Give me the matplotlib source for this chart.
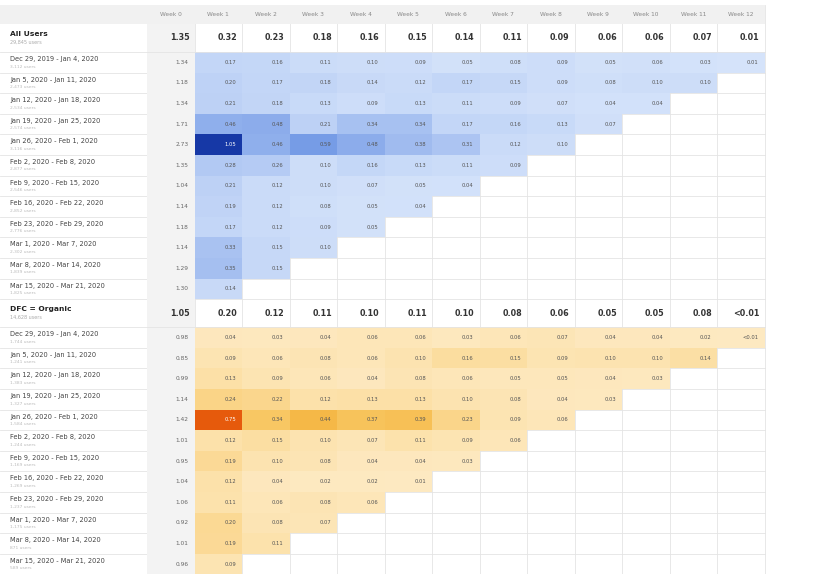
import matplotlib.pyplot as plt
import numpy as np
from matplotlib.colors import LinearSegmentedColormap
from matplotlib.patches import Rectangle

weeks = [f"Week {i}" for i in range(13)]
cohorts = ["Dec 29, 2019 - Jan 4, 2020", "Jan 5, 2020 - Jan 11, 2020",
           "Jan 12, 2020 - Jan 18, 2020", "Jan 19, 2020 - Jan 25, 2020",
           "Jan 26, 2020 - Feb 1, 2020", "Feb 2, 2020 - Feb 8, 2020",
           "Feb 9, 2020 - Feb 15, 2020", "Feb 16, 2020 - Feb 22, 2020",
           "Feb 23, 2020 - Feb 29, 2020", "Mar 1, 2020 - Mar 7, 2020",
           "Mar 8, 2020 - Mar 14, 2020", "Mar 15, 2020 - Mar 21, 2020"]

all_users = "29,845 users"
all_counts = ["3,112 users", "2,473 users", "2,534 users", "2,574 users",
              "3,116 users", "2,877 users", "2,546 users", "2,852 users",
              "2,776 users", "2,302 users", "1,839 users", "1,825 users"]
all_summary = [1.35, 0.32, 0.23, 0.18, 0.16, 0.15, 0.14, 0.11, 0.09, 0.06, 0.06, 0.07, 0.01]
all_rows = [
    [1.34, 0.17, 0.16, 0.11, 0.10, 0.09, 0.05, 0.08, 0.09, 0.05, 0.06, 0.03, 0.01],
    [1.18, 0.20, 0.17, 0.18, 0.14, 0.12, 0.17, 0.15, 0.09, 0.08, 0.10, 0.10],
    [1.34, 0.21, 0.18, 0.13, 0.09, 0.13, 0.11, 0.09, 0.07, 0.04, 0.04],
    [1.71, 0.46, 0.48, 0.21, 0.34, 0.34, 0.17, 0.16, 0.13, 0.07],
    [2.73, 1.05, 0.46, 0.59, 0.48, 0.38, 0.31, 0.12, 0.10],
    [1.35, 0.28, 0.26, 0.10, 0.16, 0.13, 0.11, 0.09],
    [1.04, 0.21, 0.12, 0.10, 0.07, 0.05, 0.04],
    [1.14, 0.19, 0.12, 0.08, 0.05, 0.04],
    [1.18, 0.17, 0.12, 0.09, 0.05],
    [1.14, 0.33, 0.15, 0.10],
    [1.29, 0.35, 0.15],
    [1.30, 0.14],
]

dfc_users = "14,628 users"
dfc_counts = ["1,744 users", "1,241 users", "1,383 users", "1,327 users",
              "1,584 users", "1,244 users", "1,169 users", "1,269 users",
              "1,237 users", "1,175 users", "871 users", "589 users"]
dfc_summary = [1.05, 0.20, 0.12, 0.11, 0.10, 0.11, 0.10, 0.08, 0.06, 0.05, 0.05, 0.08, 0.004]
dfc_rows = [
    [0.98, 0.04, 0.03, 0.04, 0.06, 0.06, 0.03, 0.06, 0.07, 0.04, 0.04, 0.02, 0.004],
    [0.85, 0.09, 0.06, 0.08, 0.06, 0.10, 0.16, 0.15, 0.09, 0.10, 0.10, 0.14],
    [0.99, 0.13, 0.09, 0.06, 0.04, 0.08, 0.06, 0.05, 0.05, 0.04, 0.03],
    [1.14, 0.24, 0.22, 0.12, 0.13, 0.13, 0.10, 0.08, 0.04, 0.03],
    [1.42, 0.75, 0.34, 0.44, 0.37, 0.39, 0.23, 0.09, 0.06],
    [1.01, 0.12, 0.15, 0.10, 0.07, 0.11, 0.09, 0.06],
    [0.95, 0.19, 0.10, 0.08, 0.04, 0.04, 0.03],
    [1.04, 0.12, 0.04, 0.02, 0.02, 0.01],
    [1.06, 0.11, 0.06, 0.08, 0.06],
    [0.92, 0.20, 0.08, 0.07],
    [1.01, 0.19, 0.11],
    [0.96, 0.09],
]

blues = LinearSegmentedColormap.from_list("b", ["#d5e3fa", "#8eaeec", "#4f7edb", "#1638a6"])
oranges = LinearSegmentedColormap.from_list("o", ["#fde9c1", "#f8c865", "#f2a524", "#e65a0c"])

# layout in pixels
C0, CW = 147, 47.5
HEAD_T, HEAD_B = 5, 24
SUM_H, ROW_H = 28, 20.6
GRID = "#e4e4e4"


def fmt(v):
    return "<0.01" if v < 0.005 else f"{v:.2f}"


fig = plt.figure(figsize=(8.22, 5.74), dpi=100)
ax = fig.add_axes([0, 0, 1, 1])
ax.set_xlim(0, 822)
ax.set_ylim(574, 0)
ax.axis("off")
right = C0 + CW * len(weeks)

# header
ax.add_patch(Rectangle((0, HEAD_T), right, HEAD_B - HEAD_T, color="#f1f1f1", lw=0))
for j, w in enumerate(weeks):
    ax.text(C0 + CW * (j + 0.5), (HEAD_T + HEAD_B) / 2, w, ha="center", va="center",
            fontsize=4.2, color="#888888")


def block(top, title, users, counts, summary, rows, cmap):
    vmax = max(max(r[1:]) for r in rows)
    ax.add_patch(Rectangle((C0, top), CW, SUM_H, color="#f3f3f3", lw=0))
    ax.text(10, top + 10, title, fontsize=5.4, fontweight="bold", va="center", color="#222222")
    ax.text(10, top + 18, users, fontsize=3.5, va="center", color="#aaaaaa")
    for j, v in enumerate(summary):
        ax.text(C0 + CW * (j + 1) - 5, top + SUM_H / 2, fmt(v), ha="right", va="center",
                fontsize=5.8, fontweight="bold", color="#333333")
    ax.plot([0, right], [top + SUM_H] * 2, color=GRID, lw=0.6)
    y = top + SUM_H
    for name, cnt, r in zip(cohorts, counts, rows):
        ax.add_patch(Rectangle((C0, y), CW, ROW_H, color="#f3f3f3", lw=0))
        ax.text(10, y + 7, name, fontsize=4.8, va="center", color="#444444")
        ax.text(10, y + 14.5, cnt, fontsize=3.2, va="center", color="#bbbbbb")
        ax.text(C0 + CW - 6, y + ROW_H / 2, fmt(r[0]), ha="right", va="center",
                fontsize=4.2, color="#666666")
        for j, v in enumerate(r[1:], start=1):
            frac = (v / vmax) ** 1.35
            ax.add_patch(Rectangle((C0 + CW * j, y), CW, ROW_H, color=cmap(frac), lw=0))
            tc = "white" if frac > 0.8 else "#555555"
            ax.text(C0 + CW * (j + 1) - 6, y + ROW_H / 2, fmt(v), ha="right", va="center",
                    fontsize=3.8, color=tc)
        y += ROW_H
        ax.plot([0, right], [y, y], color=GRID, lw=0.6, zorder=0)
    return y


end1 = block(HEAD_B, "All Users", all_users, all_counts, all_summary, all_rows, blues)
end2 = block(end1, "DFC = Organic", dfc_users, dfc_counts, dfc_summary, dfc_rows, oranges)

for j in range(len(weeks) + 1):
    ax.plot([C0 + CW * j] * 2, [HEAD_T, 574], color=GRID, lw=0.6, zorder=0)

fig.savefig("out.png", dpi=100)
